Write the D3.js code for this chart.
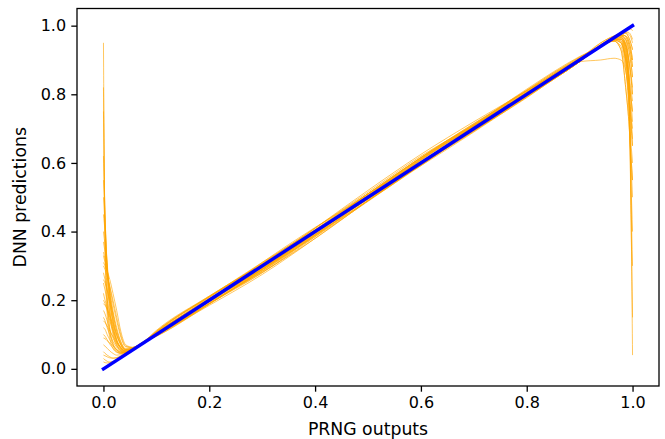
<!DOCTYPE html>
<html>
<head>
<meta charset="utf-8">
<script src="https://cdn.jsdelivr.net/npm/d3@7"></script>
<style>
html,body{margin:0;padding:0;background:#fff;}
svg{display:block;}
text{font-family:"DejaVu Sans",sans-serif;}
</style>
</head>
<body>
<svg id="chart" width="665" height="439"></svg>
<script>
// Shared PRNG-output grid (x values)
const xGrid = [0, 0.003, 0.007, 0.012, 0.018, 0.025, 0.033, 0.042, 0.055, 0.075,
               0.1, 0.2, 0.3, 0.4, 0.5, 0.6, 0.7, 0.8, 0.9,
               0.94, 0.965, 0.978, 0.987, 0.993, 0.997, 1.0];

// DNN prediction runs (y values on xGrid)
const run01 = [0.95,0.35,0.16,0.09,0.06,0.048,0.045,0.047,0.058,0.077, 0.105,0.205,0.29,0.395,0.51,0.615,0.705,0.8,0.9, 0.94,0.962,0.972,0.97,0.955,0.93,0.9];
const run02 = [0.82,0.4,0.2,0.11,0.07,0.052,0.046,0.048,0.058,0.077, 0.1,0.195,0.28,0.385,0.5,0.61,0.71,0.805,0.9, 0.94,0.964,0.972,0.96,0.88,0.5,0.04];
const run03 = [0.75,0.42,0.22,0.12,0.075,0.056,0.048,0.048,0.058,0.077, 0.11,0.21,0.305,0.41,0.515,0.62,0.71,0.8,0.895, 0.94,0.963,0.975,0.98,0.975,0.965,0.95];
const run04 = [0.62,0.45,0.28,0.16,0.1,0.068,0.052,0.047,0.056,0.076, 0.097,0.19,0.285,0.39,0.495,0.595,0.7,0.795,0.895, 0.94,0.962,0.97,0.96,0.93,0.89,0.85];
const run05 = [0.55,0.44,0.29,0.18,0.11,0.072,0.055,0.05,0.058,0.077, 0.105,0.2,0.295,0.405,0.51,0.605,0.695,0.79,0.9, 0.94,0.962,0.968,0.94,0.82,0.5,0.3];
const run06 = [0.5,0.42,0.3,0.2,0.13,0.082,0.058,0.051,0.058,0.077, 0.1,0.19,0.28,0.39,0.505,0.615,0.715,0.81,0.905, 0.942,0.967,0.978,0.986,0.99,0.99,0.985];
const run07 = [0.45,0.4,0.31,0.21,0.14,0.088,0.062,0.052,0.059,0.077, 0.095,0.19,0.29,0.4,0.505,0.6,0.695,0.795,0.895, 0.94,0.958,0.95,0.88,0.76,0.66,0.6];
const run08 = [0.4,0.36,0.3,0.22,0.15,0.1,0.068,0.055,0.06,0.078, 0.112,0.212,0.305,0.4,0.5,0.6,0.7,0.802,0.902, 0.945,0.968,0.978,0.978,0.965,0.948,0.93];
const run09 = [0.37,0.34,0.29,0.22,0.16,0.11,0.072,0.056,0.06,0.078, 0.098,0.185,0.275,0.38,0.49,0.595,0.7,0.805,0.905, 0.94,0.96,0.965,0.945,0.9,0.85,0.8];
const run10 = [0.34,0.32,0.28,0.23,0.17,0.12,0.078,0.058,0.06,0.077, 0.104,0.2,0.3,0.41,0.52,0.625,0.72,0.81,0.9, 0.94,0.962,0.965,0.93,0.8,0.55,0.4];
const run11 = [0.33,0.31,0.28,0.24,0.19,0.14,0.092,0.064,0.062,0.078, 0.1,0.2,0.31,0.412,0.505,0.598,0.692,0.795,0.898, 0.95,0.97,0.976,0.968,0.945,0.915,0.88];
const run12 = [0.3,0.29,0.27,0.24,0.2,0.15,0.098,0.066,0.062,0.078, 0.095,0.188,0.288,0.395,0.505,0.61,0.705,0.8,0.895, 0.945,0.962,0.955,0.91,0.86,0.815,0.78];
const run13 = [0.31,0.3,0.285,0.26,0.22,0.17,0.108,0.07,0.063,0.079, 0.108,0.21,0.3,0.392,0.49,0.595,0.705,0.812,0.908, 0.94,0.958,0.95,0.9,0.84,0.79,0.75];
const run14 = [0.28,0.26,0.23,0.19,0.14,0.1,0.07,0.055,0.059,0.077, 0.1,0.195,0.29,0.388,0.49,0.598,0.706,0.806,0.9, 0.94,0.96,0.96,0.92,0.85,0.78,0.72];
const run15 = [0.25,0.23,0.2,0.16,0.12,0.083,0.062,0.052,0.058,0.076, 0.104,0.205,0.302,0.405,0.51,0.612,0.708,0.8,0.895, 0.94,0.955,0.94,0.87,0.8,0.74,0.7];
const run16 = [0.26,0.25,0.23,0.2,0.16,0.112,0.078,0.058,0.06,0.077, 0.097,0.19,0.29,0.4,0.51,0.615,0.712,0.81,0.905, 0.942,0.962,0.962,0.93,0.84,0.74,0.67];
const run17 = [0.22,0.2,0.18,0.15,0.115,0.082,0.062,0.052,0.057,0.076, 0.108,0.21,0.31,0.405,0.5,0.592,0.69,0.792,0.895, 0.94,0.96,0.955,0.9,0.8,0.71,0.65];
const run18 = [0.2,0.19,0.17,0.14,0.11,0.078,0.058,0.05,0.056,0.076, 0.1,0.2,0.295,0.39,0.49,0.592,0.698,0.8,0.9, 0.94,0.955,0.93,0.82,0.72,0.62,0.55];
const run19 = [0.19,0.185,0.175,0.155,0.13,0.098,0.072,0.056,0.059,0.077, 0.106,0.2,0.29,0.385,0.488,0.595,0.708,0.815,0.91, 0.94,0.96,0.96,0.91,0.77,0.6,0.5];
const run20 = [0.17,0.16,0.14,0.115,0.09,0.068,0.054,0.049,0.056,0.076, 0.1,0.197,0.293,0.396,0.505,0.612,0.712,0.812,0.895, 0.9,0.905,0.9,0.87,0.8,0.72,0.65];
const run21 = [0.15,0.14,0.12,0.1,0.08,0.063,0.052,0.048,0.056,0.075, 0.104,0.208,0.308,0.405,0.5,0.595,0.693,0.792,0.895, 0.94,0.963,0.97,0.95,0.85,0.45,0.15];
const run22 = [0.14,0.135,0.125,0.11,0.095,0.076,0.061,0.053,0.058,0.076, 0.098,0.192,0.286,0.392,0.505,0.616,0.71,0.8,0.9, 0.94,0.962,0.972,0.97,0.955,0.93,0.9];
const run23 = [0.12,0.115,0.1,0.085,0.07,0.056,0.048,0.047,0.056,0.075, 0.108,0.212,0.305,0.398,0.495,0.596,0.7,0.806,0.908, 0.942,0.965,0.976,0.982,0.98,0.972,0.96];
const run24 = [0.1,0.095,0.085,0.072,0.06,0.05,0.045,0.046,0.055,0.075, 0.1,0.2,0.282,0.38,0.49,0.6,0.708,0.81,0.902, 0.938,0.958,0.96,0.94,0.9,0.86,0.82];
const run25 = [0.09,0.088,0.082,0.075,0.066,0.056,0.05,0.048,0.056,0.075, 0.097,0.2,0.306,0.41,0.51,0.602,0.695,0.795,0.897, 0.94,0.962,0.97,0.96,0.93,0.89,0.85];
const run26 = [0.07,0.066,0.06,0.052,0.045,0.04,0.041,0.045,0.055,0.075, 0.106,0.198,0.29,0.396,0.502,0.608,0.705,0.8,0.895, 0.945,0.968,0.978,0.978,0.965,0.948,0.93];
const run27 = [0.05,0.045,0.04,0.035,0.031,0.032,0.036,0.043,0.055,0.075, 0.1,0.2,0.298,0.396,0.496,0.598,0.702,0.806,0.904, 0.95,0.97,0.976,0.968,0.945,0.915,0.88];
const run28 = [0.04,0.038,0.035,0.032,0.031,0.033,0.038,0.044,0.055,0.075, 0.097,0.19,0.284,0.388,0.498,0.608,0.708,0.802,0.898, 0.94,0.96,0.965,0.945,0.9,0.85,0.8];
const run29 = [0.02,0.018,0.017,0.018,0.021,0.026,0.033,0.042,0.054,0.074, 0.108,0.21,0.302,0.398,0.494,0.594,0.698,0.8,0.904, 0.94,0.958,0.95,0.9,0.84,0.79,0.75];
const run30 = [0.03,0.026,0.022,0.02,0.021,0.027,0.034,0.043,0.055,0.074, 0.102,0.198,0.292,0.4,0.51,0.616,0.714,0.806,0.898, 0.94,0.955,0.93,0.82,0.72,0.62,0.55];
const runs = [run01,run02,run03,run04,run05,run06,run07,run08,run09,run10,
              run11,run12,run13,run14,run15,run16,run17,run18,run19,run20,
              run21,run22,run23,run24,run25,run26,run27,run28,run29,run30];

// Ideal diagonal
const idealX = [0, 1];
const idealY = [0, 1];

const xTicks = [0.0, 0.2, 0.4, 0.6, 0.8, 1.0];
const yTicks = [0.0, 0.2, 0.4, 0.6, 0.8, 1.0];
const xLabel = "PRNG outputs";
const yLabel = "DNN predictions";

const svg = d3.select("#chart");
const L = 77, R = 659, T = 8.5, B = 386;
const x = d3.scaleLinear().domain([-0.05, 1.05]).range([L, R]);
const y = d3.scaleLinear().domain([-0.05, 1.05]).range([B, T]);

svg.append("defs").append("clipPath").attr("id","clip")
  .append("rect").attr("x",L).attr("y",T).attr("width",R-L).attr("height",B-T);

const g = svg.append("g").attr("clip-path","url(#clip)");
const line = d3.line().x(d => x(d[0])).y(d => y(d[1])).curve(d3.curveMonotoneX);

runs.forEach(r => {
  g.append("path")
    .attr("d", line(xGrid.map((xv,i) => [xv, r[i]])))
    .attr("fill","none")
    .attr("stroke","#ffa500")
    .attr("stroke-width",0.7)
    .attr("stroke-opacity",0.9);
});

g.append("path")
  .attr("d", d3.line().x(d => x(d[0])).y(d => y(d[1]))(idealX.map((xv,i)=>[xv, idealY[i]])))
  .attr("fill","none")
  .attr("stroke","#0000ff")
  .attr("stroke-width",3.4)
  .attr("stroke-linecap","square");

const fs = 16, lfs = 17.3;
const xAxis = svg.append("g").attr("transform",`translate(0,${B})`)
  .call(d3.axisBottom(x).tickValues(xTicks).tickFormat(d3.format(".1f")).tickSize(5.7).tickPadding(5.2));
const yAxis = svg.append("g").attr("transform",`translate(${L},0)`)
  .call(d3.axisLeft(y).tickValues(yTicks).tickFormat(d3.format(".1f")).tickSize(5.7).tickPadding(5.2));
[xAxis, yAxis].forEach(a => {
  a.select(".domain").remove();
  a.selectAll(".tick line").attr("stroke","#000").attr("stroke-width",1.3);
  a.selectAll(".tick text").attr("fill","#000").style("font-size",fs+"px").style("font-family","DejaVu Sans");
});

svg.append("rect").attr("x",L).attr("y",T).attr("width",R-L).attr("height",B-T)
  .attr("fill","none").attr("stroke","#000").attr("stroke-width",1.3);

svg.append("text").attr("x",(L+R)/2).attr("y",435).attr("text-anchor","middle")
  .style("font-size",lfs+"px").attr("fill","#000").text(xLabel);
svg.append("text").attr("transform",`translate(26,${(T+B)/2}) rotate(-90)`).attr("text-anchor","middle")
  .style("font-size",lfs+"px").attr("fill","#000").text(yLabel);
</script>
</body>
</html>
